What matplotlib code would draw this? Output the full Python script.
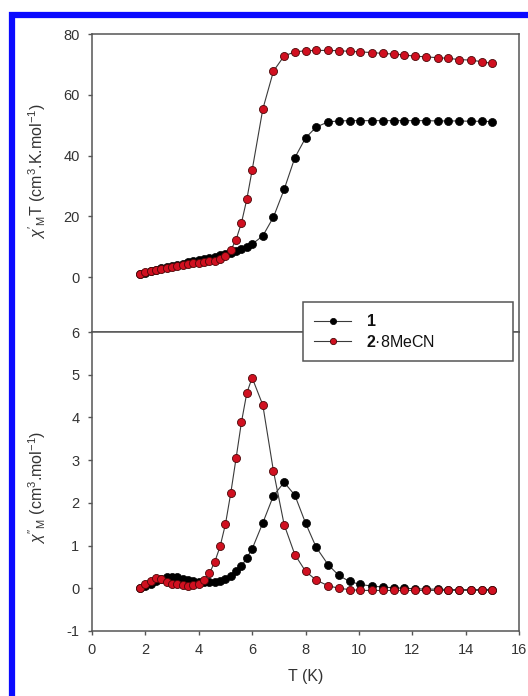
import matplotlib
matplotlib.use("Agg")
import matplotlib.pyplot as plt
from matplotlib.lines import Line2D
from matplotlib.patches import Rectangle

plt.rcParams['font.family'] = ['Liberation Sans', 'DejaVu Sans']
plt.rcParams['mathtext.fontset'] = 'custom'
plt.rcParams['mathtext.rm'] = 'Liberation Sans'
plt.rcParams['mathtext.it'] = 'Liberation Sans:italic'
plt.rcParams['mathtext.bf'] = 'Liberation Sans:bold'
plt.rcParams['axes.unicode_minus'] = False

# ---------------- data ----------------
T = [1.8, 2.0, 2.2, 2.4, 2.6, 2.8, 3.0, 3.2, 3.4, 3.6, 3.8, 4.0, 4.2, 4.4, 4.6,
     4.8, 5.0, 5.2, 5.4, 5.6, 5.8, 6.0, 6.4, 6.8, 7.2, 7.6, 8.0, 8.4, 8.85, 9.25,
     9.65, 10.05, 10.5, 10.9, 11.3, 11.7, 12.1, 12.5, 12.95, 13.35, 13.75, 14.2,
     14.6, 15.0]

chiT_1 = [1.0, 1.5, 2.0, 2.4, 2.9, 3.3, 3.7, 4.1, 4.5, 4.9, 5.3, 5.7, 6.0, 6.4,
          6.8, 7.2, 7.6, 8.1, 8.7, 9.3, 10.0, 10.9, 13.6, 19.8, 28.9, 39.3, 45.8,
          49.4, 51.1, 51.4, 51.5, 51.5, 51.5, 51.5, 51.5, 51.5, 51.5, 51.5, 51.4,
          51.4, 51.4, 51.3, 51.3, 51.2]
chiT_2 = [1.2, 1.6, 2.0, 2.3, 2.7, 3.0, 3.3, 3.6, 3.9, 4.3, 4.6, 4.8, 5.0, 5.2,
          5.5, 6.0, 7.0, 8.9, 12.4, 17.9, 25.6, 35.2, 55.3, 67.8, 72.8, 74.1, 74.5,
          74.6, 74.6, 74.5, 74.3, 74.1, 73.9, 73.6, 73.4, 73.1, 72.7, 72.5, 72.2,
          72.0, 71.6, 71.4, 70.9, 70.3]

chi2_1 = [0.0, 0.05, 0.1, 0.16, 0.22, 0.26, 0.27, 0.26, 0.22, 0.19, 0.16, 0.14,
          0.14, 0.14, 0.15, 0.17, 0.21, 0.28, 0.41, 0.52, 0.71, 0.92, 1.53, 2.17,
          2.48, 2.18, 1.53, 0.96, 0.55, 0.30, 0.16, 0.09, 0.05, 0.03, 0.01, 0.0,
          -0.01, -0.02, -0.02, -0.03, -0.03, -0.03, -0.03, -0.03]
chi2_2 = [0.0, 0.1, 0.18, 0.23, 0.22, 0.15, 0.11, 0.09, 0.07, 0.06, 0.07, 0.11,
          0.2, 0.35, 0.62, 0.98, 1.5, 2.23, 3.05, 3.89, 4.57, 4.93, 4.29, 2.74,
          1.49, 0.79, 0.40, 0.19, 0.06, 0.0, -0.03, -0.05, -0.05, -0.05, -0.05,
          -0.05, -0.05, -0.05, -0.05, -0.05, -0.05, -0.05, -0.05, -0.05]

labels = [r"$\mathbf{1}$", r"$\mathbf{2}$·8MeCN"]
xticks = [0, 2, 4, 6, 8, 10, 12, 14, 16]
yticks_top = [0, 20, 40, 60, 80]
yticks_bot = [-1, 0, 1, 2, 3, 4, 5, 6]

# ---------------- figure ----------------
W, H = 528, 696
fig = plt.figure(figsize=(W / 100, H / 100), dpi=100)

L, R = 92, 519
top1, mid, bot2 = 34, 332, 631
ax1 = fig.add_axes([L / W, 1 - mid / H, (R - L) / W, (mid - top1) / H])
ax2 = fig.add_axes([L / W, 1 - bot2 / H, (R - L) / W, (bot2 - mid) / H])

grey = '#555555'
txt = '#333333'
line_c = '#3a3a3a'
red_face = '#d01020'
red_edge = '#4a0808'

style1 = dict(color=line_c, lw=0.8, marker='o', ms=5.8, mfc='black', mec='black', mew=0.5)
style2 = dict(color=line_c, lw=0.8, marker='o', ms=5.8, mfc=red_face, mec=red_edge, mew=0.6)
leg_style1 = dict(style1, ms=4.5)
leg_style2 = dict(style2, ms=4.5)

ax1.plot(T, chiT_1, **style1)
ax1.plot(T, chiT_2, **style2)
ax2.plot(T, chi2_1, **style1)
ax2.plot(T, chi2_2, **style2)

for ax in (ax1, ax2):
    ax.set_xlim(0, 16)
    for s in ax.spines.values():
        s.set_color(grey)
        s.set_linewidth(1.1)
    ax.tick_params(direction='out', length=3, width=1, color=grey,
                   labelsize=10.5, labelcolor=txt, pad=6,
                   top=False, right=False)

ax1.set_ylim(-18, 80)
ax1.set_yticks(yticks_top)
ax1.set_xticks(xticks)
ax1.tick_params(axis='x', bottom=False, labelbottom=False)

ax2.set_ylim(-1, 6)
ax2.set_yticks(yticks_bot)
ax2.set_xticks(xticks)

ax1.set_ylabel(r"$\chi'_{\rm M}$T (cm$^{3}$.K.mol$^{-1}$)", fontsize=11.5, color=txt)
ax2.set_ylabel(r"$\chi''_{\rm M}$ (cm$^{3}$.mol$^{-1}$)", fontsize=11.5, color=txt)
ax2.set_xlabel("T (K)", fontsize=11.5, color=txt, labelpad=8)
ax1.yaxis.set_label_coords(-0.103, 0.54)
ax2.yaxis.set_label_coords(-0.103, 0.48)

handles = [Line2D([], [], **leg_style1), Line2D([], [], **leg_style2)]
leg = fig.legend(handles, labels, loc='upper left', mode='expand',
                 bbox_to_anchor=(303 / W, 1 - 362 / H, 210 / W, 60 / H),
                 borderaxespad=0,
                 fontsize=11.5, frameon=True, fancybox=False, framealpha=1,
                 edgecolor=grey, handlelength=2.3, handletextpad=0.95,
                 labelspacing=0.3, borderpad=0.7)
leg.get_frame().set_linewidth(1.1)
for t in leg.get_texts():
    t.set_color('#111111')

# blue frame
fig.patches.append(Rectangle((12 / W, 1 - 697.5 / H), (540 - 12) / W, (697.5 - 14.5) / H,
                             transform=fig.transFigure, fill=False,
                             edgecolor='#0a0aff', linewidth=4.5, clip_on=False))

fig.savefig("out.png", dpi=100)
